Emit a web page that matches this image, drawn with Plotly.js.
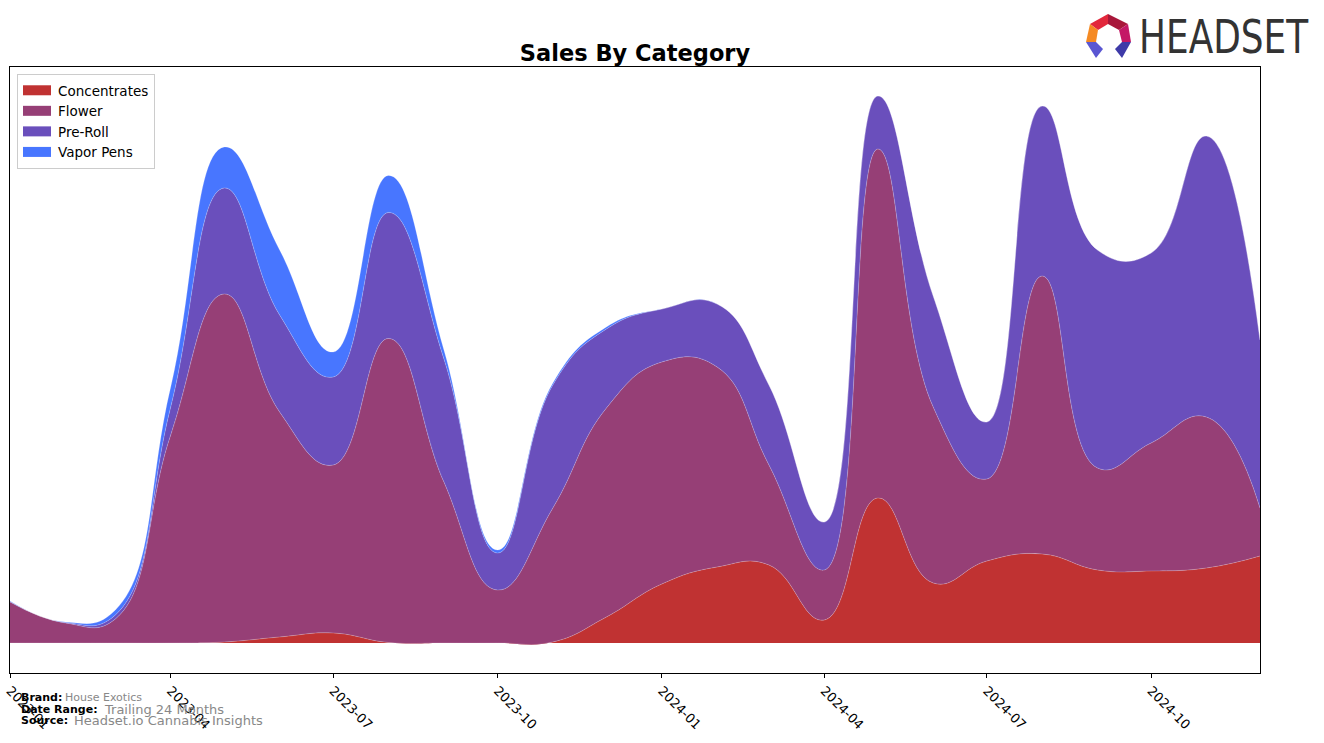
<!DOCTYPE html>
<html>
<head>
<meta charset="utf-8">
<script src="https://cdn.plot.ly/plotly-3.0.1.min.js"></script>
<style>
  html, body { margin: 0; padding: 0; background: #ffffff; }
  #chart { width: 1324px; height: 743px; }
</style>
</head>
<body>
<div id="chart"></div>
<script>
// ---- data (monthly sales) ----
const months = ['2023-01-01','2023-02-01','2023-03-01','2023-04-01','2023-05-01','2023-06-01',
                '2023-07-01','2023-08-01','2023-09-01','2023-10-01','2023-11-01','2023-12-01',
                '2024-01-01','2024-02-01','2024-03-01','2024-04-01','2024-05-01','2024-06-01',
                '2024-07-01','2024-08-01','2024-09-01','2024-10-01','2024-11-01','2024-12-01'];
const concentrates = [0, 0, 0, 0, 1, 6, 10, 0.5, 0, 0, 1, 26, 59, 76, 78, 23, 145, 60, 82, 89, 73, 72, 75, 87];
const flower       = [41, 20, 24, 208, 348, 225, 168, 304, 161, 53, 134, 209, 222, 200, 100, 50, 349, 176, 82, 278, 102, 128, 151, 48];
const preRoll      = [0.5, 0.5, 4, 28, 106, 97, 88, 126, 123, 37, 123, 79, 53, 63, 80, 48, 53, 111, 57, 170, 218, 190, 281, 168];
const vaporPens    = [0.5, 0.5, 5, 20, 41, 65, 25, 37, 9, 3, 2, 2, 0, 0, 0, 0, 0, 0, 0, 0, 0, 0, 0, 0];
const seriesNames  = ['Concentrates', 'Flower', 'Pre-Roll', 'Vapor Pens'];
const tickLabelsStart = '2023-01-01';

// ---- styles ----
const colors = ['#c03232', '#963f76', '#6a4fbc', '#4876ff'];
const seriesValues = [concentrates, flower, preRoll, vaporPens];

const traces = seriesNames.map((name, i) => ({
  type: 'scatter',
  mode: 'lines',
  name: name,
  x: months,
  y: seriesValues[i],
  stackgroup: 'one',
  line: { shape: 'spline', smoothing: 1.3, width: 0.6, color: 'rgba(255,255,255,0.35)' },
  fillcolor: colors[i],
  hoverinfo: 'x+y+name'
}));

// pixel -> paper helpers (plot area: x 10..1260, y 67..673)
const PL = 10, PR = 1260, PT = 67, PB = 673;
const px = x => (x - PL) / (PR - PL);
const py = y => (PB - y) / (PB - PT);
function poly(pts, color) {
  const d = pts.map((p, k) => (k ? 'L' : 'M') + px(p[0]) + ',' + py(p[1])).join(' ') + ' Z';
  return { type: 'path', xref: 'paper', yref: 'paper', path: d, fillcolor: color, line: { width: 0 }, layer: 'above' };
}

const logoShapes = [
  poly([[1090,24],[1108,14],[1108,24],[1098,30]], '#e2283c'),
  poly([[1108,14],[1128,24],[1119,30],[1108,24]], '#a8173a'),
  poly([[1090,24],[1098,30],[1096,42],[1086,42]], '#f58a23'),
  poly([[1128,24],[1131,42],[1122,42],[1119,30]], '#c41866'),
  poly([[1086,42],[1096,42],[1103,49],[1096,58]], '#5a56d2'),
  poly([[1131,42],[1122,42],[1115,49],[1122,58]], '#3e3aa8')
];

const footer = [
  { t: '<b>Brand:</b>', x: 19, y: 698, size: 11, color: '#000' },
  { t: 'House Exotics', x: 63, y: 698, size: 11, color: '#888' },
  { t: '<b>Date Range:</b>', x: 19, y: 709, size: 11, color: '#000' },
  { t: 'Trailing 24 Months', x: 102, y: 709, size: 13, color: '#888' },
  { t: '<b>Source:</b>', x: 19, y: 720, size: 11, color: '#000' },
  { t: 'Headset.io Cannabis Insights', x: 72, y: 720, size: 13, color: '#888' }
].map(a => ({
  text: a.t, xref: 'paper', yref: 'paper', x: px(a.x), y: py(a.y),
  xanchor: 'left', yanchor: 'middle', showarrow: false,
  font: { family: 'DejaVu Sans', size: a.size, color: a.color }
}));

footer.push({
  text: 'HEADSET', xref: 'paper', yref: 'paper', x: px(1224), y: py(37),
  xanchor: 'center', yanchor: 'middle', showarrow: false,
  font: { family: 'DejaVu Sans Condensed, DejaVu Sans, sans-serif', size: 46, color: '#333333' }
});

const layout = {
  width: 1324, height: 743,
  margin: { l: PL, r: 1324 - PR, t: PT, b: 743 - PB, pad: 0 },
  paper_bgcolor: '#ffffff',
  plot_bgcolor: '#ffffff',
  font: { family: 'DejaVu Sans', size: 13, color: '#000' },
  title: {
    text: '<b>Sales By Category</b>',
    font: { family: 'DejaVu Sans', size: 22.5, color: '#000' },
    x: 0.5, xref: 'paper', xanchor: 'center',
    y: 1 - 53 / 743, yanchor: 'middle'
  },
  showlegend: true,
  legend: {
    x: px(17), y: py(74), xanchor: 'left', yanchor: 'top',
    bgcolor: 'rgba(255,255,255,0.85)', bordercolor: '#cccccc', borderwidth: 1,
    font: { family: 'DejaVu Sans', size: 13.5, color: '#000' },
    traceorder: 'normal', itemwidth: 30, tracegroupgap: 0
  },
  xaxis: {
    type: 'date',
    range: ['2023-01-01', '2024-12-01'],
    tick0: tickLabelsStart, dtick: 'M3', tickformat: '%Y-%m',
    tickangle: 45,
    ticks: 'outside', ticklen: 4, tickwidth: 1, tickcolor: '#000',
    tickfont: { family: 'DejaVu Sans', size: 13, color: '#000' },
    showgrid: false, zeroline: false,
    showline: true, linecolor: '#000', linewidth: 1, mirror: true
  },
  yaxis: {
    range: [-30, 576],
    showticklabels: false, ticks: '',
    showgrid: false, zeroline: false,
    showline: true, linecolor: '#000', linewidth: 1, mirror: true
  },
  shapes: logoShapes,
  annotations: footer
};

Plotly.newPlot('chart', traces, layout, { displayModeBar: false, staticPlot: true }).then(gd => {
  // squeeze the logo word to the reference's width, keeping it as text
  gd.querySelectorAll('.annotation-text').forEach(t => {
    if (t.textContent === 'HEADSET') {
      t.setAttribute('textLength', '169');
      t.setAttribute('lengthAdjust', 'spacingAndGlyphs');
    }
  });
  // make legend swatches look like filled boxes
  gd.querySelectorAll('.legend .legendfill path').forEach(p => {
    p.setAttribute('d', 'M5,-5h28v10h-28Z');
  });
  gd.querySelectorAll('.legend .legendlines path').forEach(p => {
    p.style.display = 'none';
  });
});
</script>
</body>
</html>
